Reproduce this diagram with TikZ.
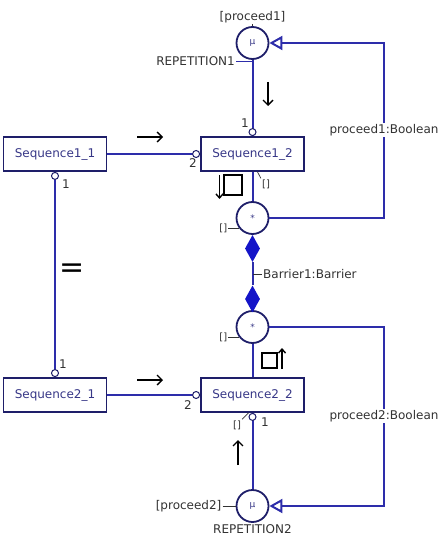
\documentclass[tikz,border=0pt]{standalone}
\usepackage{fontspec}
\setmainfont{DejaVu Sans}
\usetikzlibrary{positioning, calc, arrows.meta, shapes.geometric}

\definecolor{flowblue}{RGB}{45,45,170}
\definecolor{boxnavy}{RGB}{30,30,105}
\definecolor{seqtext}{RGB}{55,55,135}
\definecolor{barblue}{RGB}{20,20,200}
\definecolor{lblgray}{RGB}{50,50,50}

\begin{document}
\begin{tikzpicture}[x=1pt, y=-1pt, font=\fontsize{12}{14}\selectfont,
    seqbox/.style={draw=boxnavy, line width=1.8pt, fill=white, minimum width=103pt,
        minimum height=34pt, inner sep=0pt, text=seqtext},
    pin/.style={circle, draw=boxnavy, fill=white, line width=1pt, minimum size=7pt, inner sep=0pt},
    ctrl/.style={circle, draw=boxnavy, line width=1.8pt, fill=white, minimum size=32pt,
        inner sep=0pt, text=seqtext, font=\fontsize{9}{9}\selectfont},
    bar/.style={diamond, fill=barblue, minimum width=15pt, minimum height=27pt, inner sep=0pt},
    flow/.style={draw=flowblue, line width=2pt},
    lbl/.style={text=lblgray, inner sep=1pt},
    sq/.style={lbl, font=\fontsize{10}{12}\selectfont},
    tick/.style={draw=lblgray, line width=0.7pt},
    loopmark/.style={draw=black, line width=1.4pt},
    hint/.style={draw=black, line width=1.4pt, -{Straight Barb[length=5pt, width=10pt]}}]

    \useasboundingbox (0,0) rectangle (447,537);

    % Sequence boxes
    \node[seqbox] (seq11) at (55,154) {Sequence1\_1};
    \node[seqbox] (seq12) at (252.5,154) {Sequence1\_2};
    \node[seqbox] (seq21) at (55,395) {Sequence2\_1};
    \node[seqbox] (seq22) at (252.5,395) {Sequence2\_2};

    % Repetition and merge controls
    \node[ctrl] (mu1) at (252.5,43) {μ};
    \node[ctrl] (star1) at (252.5,218) {*};
    \node[ctrl] (star2) at (252.5,327) {*};
    \node[ctrl] (mu2) at (252.5,506) {μ};

    % Barrier diamonds
    \node[bar] (d1) at (252.5,248.5) {};
    \node[bar] (d2) at (252.5,299) {};

    % Flow lines
    \draw[flow] (seq11.east) -- (seq12.west);
    \draw[flow] (seq21.east) -- (seq22.west);
    \draw[flow] (seq11.south) -- (seq21.north);
    \draw[flow] (mu1.south) -- (seq12.north);
    \draw[flow] (seq12.south) -- (star1.north);
    \draw[flow] (d1.south) -- (d2.north);
    \draw[flow] (star2.south) -- (seq22.north);
    \draw[flow] (seq22.south) -- (mu2.north);

    % Ports
    \node[pin, above=0pt of seq12.north] (p12t) {};
    \node[pin, left=0pt of seq12.west] (p12l) {};
    \node[pin, below=0pt of seq11.south] (p11b) {};
    \node[pin, above=0pt of seq21.north] (p21t) {};
    \node[pin, left=0pt of seq22.west] (p22l) {};
    \node[pin, below=0pt of seq22.south] (p22b) {};

    % Feedback loops back to the mu nodes
    \coordinate (r1) at (384,130);
    \coordinate (r2) at (384,416);
    \draw[flow, -{Triangle[open, length=13pt, width=14pt]}] (star1.east) -| (r1) |- (mu1.east);
    \draw[flow, -{Triangle[open, length=13pt, width=14pt]}] (star2.east) -| (r2) |- (mu2.east);
    \node[lbl, fill=white] (b1) at (r1) {proceed1:Boolean};
    \node[lbl, fill=white] (b2) at (r2) {proceed2:Boolean};

    % Labels on the controls
    \node[lbl, above=2pt of mu1] (pr1) {[proceed1]};
    \draw[tick] (pr1) -- (mu1);
    \node[lbl, anchor=east] (rep1) at (236,61) {REPETITION1};
    \draw[tick, draw=flowblue] (rep1.east) -- (rep1.east -| mu1.south);
    \node[lbl, left=13pt of mu2] (pr2) {[proceed2]};
    \draw[tick] (pr2) -- (mu2);
    \node[lbl, below=0pt of mu2] (rep2) {REPETITION2};
    \node[sq, left=11pt of star1.219] (q1) {[]};
    \draw[tick] (q1) -- (star1.219);
    \node[sq, left=11pt of star2.219] (q2) {[]};
    \draw[tick] (q2) -- (star2.219);
    \node[lbl, anchor=west] (barr) at (262,274) {Barrier1:Barrier};
    \draw[tick] (barr.west) -- (barr.west -| d1.center);

    % Port numbers and pins
    \node[lbl] (n12t) at (245,123) {1};
    \node[lbl] (n12l) at (193,163) {2};
    \node[lbl] (n11b) at (66,184) {1};
    \node[lbl] (n21t) at (63,364) {1};
    \node[lbl] (n22l) at (188,405) {2};
    \node[lbl] (n22b) at (265,422) {1};
    \node[sq] (q12) at (266,184) {[]};
    \draw[tick] ($(seq12.south)+(5,0)$) -- (q12.north west);
    \node[sq] (q22) at (237,425) {[]};
    \draw[tick] ($(seq22.south)+(-4,0)$) -- (q22.north east);

    % Direction hints
    \draw[hint] (137,137) -- (163,137);
    \draw[hint] (137,380) -- (163,380);
    \draw[hint] (268,82) -- (268,106);
    \draw[hint] (238,465) -- (238,440);
    \node[text=black, font=\fontsize{30}{30}\selectfont] (eq) at (72,271) {=};
    \draw[loopmark] (224,175) rectangle (242,195);
    \draw[hint, -{Straight Barb[length=4pt, width=7pt]}] (219.5,175) -- (219.5,199);
    \draw[loopmark] (262,353) rectangle (277,368);
    \draw[hint, -{Straight Barb[length=4pt, width=7pt]}] (282,369) -- (282,348);

\end{tikzpicture}
\end{document}
